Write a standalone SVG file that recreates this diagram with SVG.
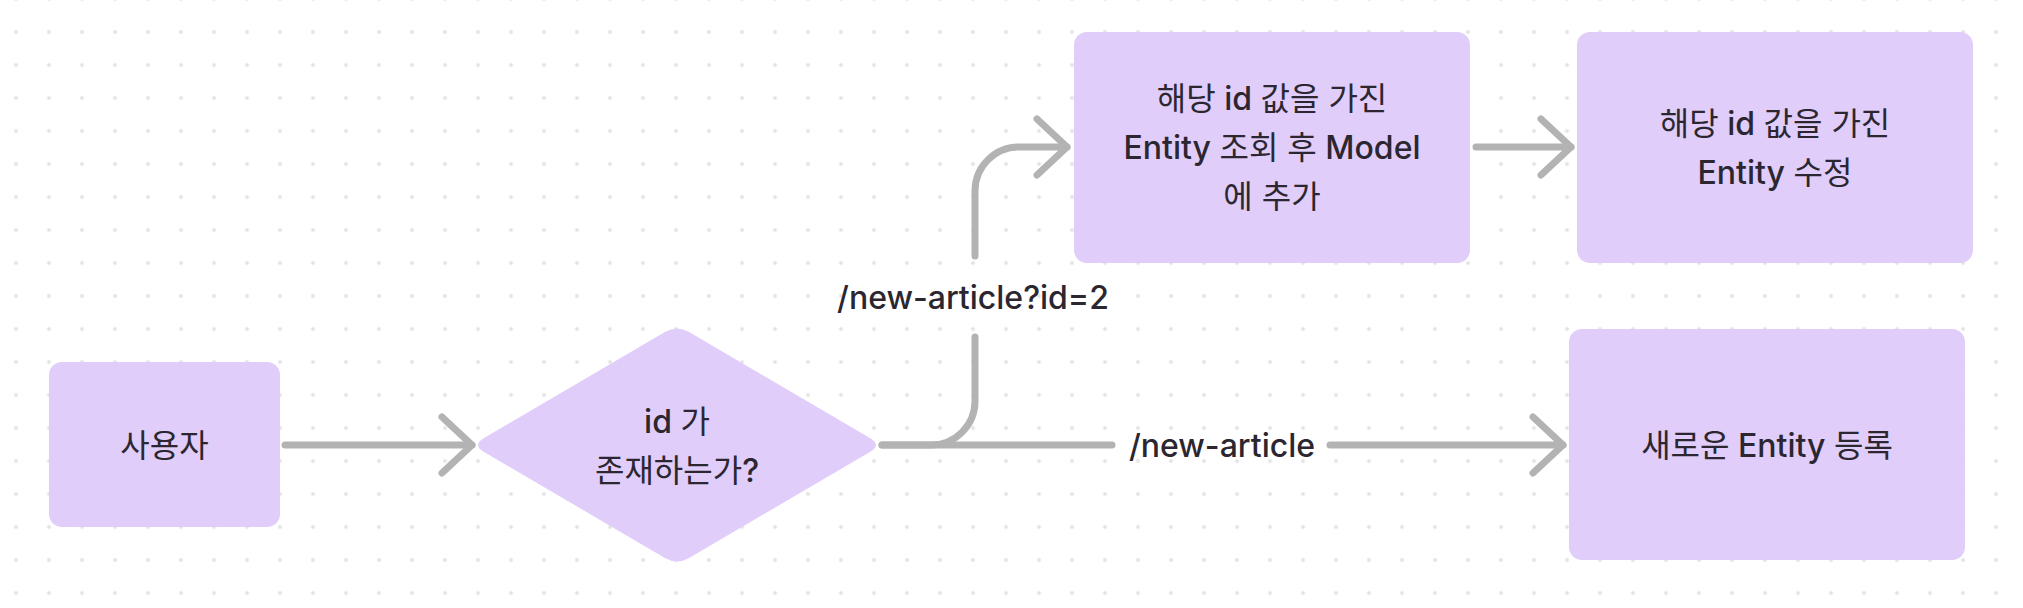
<svg xmlns="http://www.w3.org/2000/svg" width="2023" height="608" viewBox="0 0 2023 608">
  <style>
    .node { fill: #E0CDFA; }
    .txt { font-family: Inter, "Noto Sans CJK KR", "Noto Sans", sans-serif; font-size: 32px; font-weight: 500; fill: #2B2630; text-anchor: middle; }
    .lbl { font-family: Inter, "Noto Sans CJK KR", "Noto Sans", sans-serif; font-size: 32px; font-weight: 500; fill: #2B2630; text-anchor: middle; }
    .ko { font-weight: 400; }
    .conn { fill: none; stroke: #B3B3B3; stroke-width: 7; stroke-linecap: round; stroke-linejoin: round; }
  </style>
  <defs>
    <pattern id="dots" x="-0.5" y="15.5" width="33" height="33" patternUnits="userSpaceOnUse">
      <circle cx="16.5" cy="16.5" r="2" fill="#E3E3E3"/>
    </pattern>
    <marker id="chev" markerUnits="userSpaceOnUse" markerWidth="80" markerHeight="80" viewBox="-40 -40 80 80" refX="0" refY="0" orient="auto" overflow="visible">
      <path d="M -30 -28 L 0 0 L -30 28" fill="none" stroke="#B3B3B3" stroke-width="7" stroke-linecap="round" stroke-linejoin="round"/>
    </marker>
  </defs>
  <rect width="2023" height="608" fill="#FFFFFF"/>
  <rect width="2023" height="608" fill="url(#dots)"/>

  <g id="connectors">
    <path class="conn" d="M 285 445 L 472 445" marker-end="url(#chev)"/>
    <path class="conn" d="M 882 445 L 1112 445"/>
    <path class="conn" d="M 882 445 L 931 445 A 44 44 0 0 0 975 401 L 975 337"/>
    <path class="conn" d="M 975 256 L 975 191 A 44 44 0 0 1 1019 147 L 1067 147" marker-end="url(#chev)"/>
    <path class="conn" d="M 1476 147 L 1571 147" marker-end="url(#chev)"/>
    <path class="conn" d="M 1330 445 L 1563 445" marker-end="url(#chev)"/>
    <text class="lbl" x="973" y="309">/new-article?id=2</text>
    <text class="lbl" x="1222" y="457">/new-article</text>
  </g>

  <g id="node-user">
    <rect class="node" x="49" y="362" width="231" height="165" rx="13"/>
    <text class="txt ko" x="164.5" y="457">사용자</text>
  </g>

  <g id="node-decision">
    <path class="node" d="M 484.1 437.9 L 664.9 332.1 Q 677 325 689.1 332.1 L 869.9 437.9 Q 882 445 869.9 452.1 L 689.1 557.9 Q 677 565 664.9 557.9 L 484.1 452.1 Q 472 445 484.1 437.9 Z"/>
    <text class="txt" x="677" y="433">id <tspan class="ko">가</tspan></text>
    <text class="txt" x="677" y="482"><tspan class="ko">존재하는가</tspan>?</text>
  </g>

  <g id="node-lookup">
    <rect class="node" x="1074" y="32" width="396" height="231" rx="13"/>
    <text class="txt" x="1272" y="110"><tspan class="ko">해당</tspan> id <tspan class="ko">값을 가진</tspan></text>
    <text class="txt" x="1272" y="159">Entity <tspan class="ko">조회 후</tspan> Model</text>
    <text class="txt ko" x="1272" y="208">에 추가</text>
  </g>

  <g id="node-update">
    <rect class="node" x="1577" y="32" width="396" height="231" rx="13"/>
    <text class="txt" x="1775" y="135"><tspan class="ko">해당</tspan> id <tspan class="ko">값을 가진</tspan></text>
    <text class="txt" x="1775" y="184">Entity <tspan class="ko">수정</tspan></text>
  </g>

  <g id="node-create">
    <rect class="node" x="1569" y="329" width="396" height="231" rx="13"/>
    <text class="txt" x="1767" y="457"><tspan class="ko">새로운</tspan> Entity <tspan class="ko">등록</tspan></text>
  </g>
</svg>
